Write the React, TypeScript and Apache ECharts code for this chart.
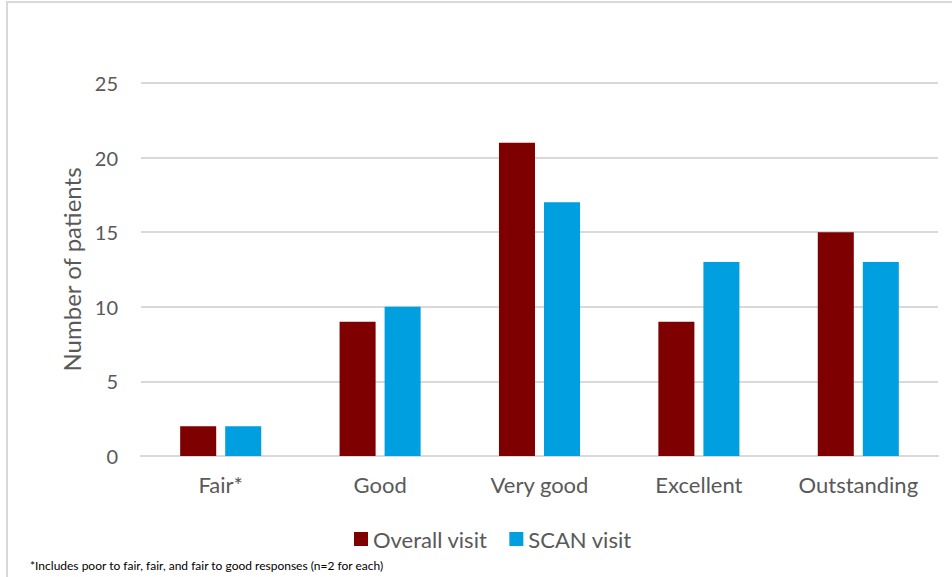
import React, { useEffect, useRef } from "react";
import * as echarts from "echarts";

const categories = ["Fair*", "Good", "Very good", "Excellent", "Outstanding"];
const overallVisit = [2, 9, 21, 9, 15];
const scanVisit = [2, 10, 17, 13, 13];
const yTicks = { min: 0, max: 25, interval: 5 };
const footnote = "*Includes poor to fair, fair, and fair to good responses (n=2 for each)";

const FONT = "Lato, 'Open Sans', sans-serif";
const TEXT = "#595959";

export default function App() {
  const ref = useRef<HTMLDivElement>(null);

  useEffect(() => {
    if (!ref.current) return;
    const chart = echarts.init(ref.current, null, { renderer: "svg" });
    chart.setOption({
      animation: false,
      backgroundColor: "#ffffff",
      textStyle: { fontFamily: FONT },
      grid: { left: 141, right: 14, top: 83, bottom: 121, containLabel: false },
      legend: {
        top: 523,
        left: 349,
        itemWidth: 14,
        itemHeight: 14,
        itemGap: 22,
        icon: "rect",
        textStyle: { fontSize: 22, color: TEXT, fontFamily: FONT },
        data: ["Overall visit", "SCAN visit"],
      },
      xAxis: {
        type: "category",
        data: categories,
        axisLine: { show: true, lineStyle: { color: "#d9d9d9", width: 2 } },
        axisTick: { show: false },
        axisLabel: { fontSize: 22, color: TEXT, margin: 17, fontFamily: FONT },
      },
      yAxis: {
        type: "value",
        min: yTicks.min,
        max: yTicks.max,
        interval: yTicks.interval,
        name: "Number of patients",
        nameLocation: "middle",
        nameGap: 56,
        nameTextStyle: { fontSize: 24, color: TEXT, fontFamily: FONT },
        axisLine: { show: false },
        axisTick: { show: false },
        axisLabel: { fontSize: 20, color: TEXT, margin: 23, fontFamily: FONT },
        splitLine: { lineStyle: { color: "#d9d9d9", width: 2 } },
      },
      series: [
        {
          name: "Overall visit",
          type: "bar",
          data: overallVisit,
          barWidth: "22.6%",
          barGap: "25%",
          itemStyle: { color: "#7f0000" },
        },
        {
          name: "SCAN visit",
          type: "bar",
          data: scanVisit,
          barWidth: "22.6%",
          itemStyle: { color: "#009fdf" },
        },
      ],
      graphic: [
        {
          type: "rect",
          shape: { x: 7, y: 2, width: 1000, height: 1000 },
          style: { fill: "none", stroke: "#d9d9d9", lineWidth: 2 },
          silent: true,
        },
        {
          type: "text",
          left: 30,
          top: 559,
          style: { text: footnote, fontSize: 12, fill: "#000000", fontFamily: FONT },
        },
      ],
    });
    return () => chart.dispose();
  }, []);

  return (
    <div
      ref={ref}
      style={{ position: "absolute", left: 0, top: 0, width: 952, height: 577 }}
    />
  );
}
